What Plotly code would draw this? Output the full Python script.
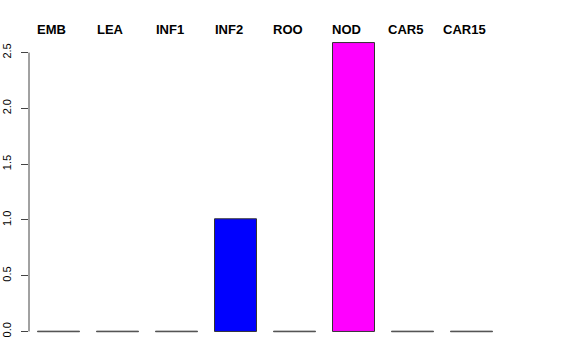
import plotly.graph_objects as go

categories = ["EMB", "LEA", "INF1", "INF2", "ROO", "NOD", "CAR5", "CAR15"]
values = [0, 0, 0, 1.01, 0, 2.59, 0, 0]
bar_colors = ["#FFFFFF", "#FFFFFF", "#FFFFFF", "#0000FF", "#FFFFFF", "#FF00FF", "#FFFFFF", "#FFFFFF"]
tick_vals = [0.0, 0.5, 1.0, 1.5, 2.0, 2.5]
tick_text = ["0.0", "0.5", "1.0", "1.5", "2.0", "2.5"]

xs = list(range(len(categories)))

fig = go.Figure()
fig.add_trace(go.Bar(
    x=xs, y=values,
    marker=dict(color=bar_colors, line=dict(color="#333333", width=1)),
    showlegend=False, hoverinfo="skip",
))
# zero-height bars: drawn as flat lines at the value
zx = [x for x, v in zip(xs, values) if v == 0]
zy = [v for v in values if v == 0]
fig.add_trace(go.Scatter(
    x=zx, y=zy, mode="markers",
    marker=dict(symbol="line-ew", size=30, line=dict(color="#555555", width=1.5)),
    showlegend=False, hoverinfo="skip", cliponaxis=False,
))

for x, c in zip(xs, categories):
    fig.add_annotation(
        x=x, y=1, xref="x", yref="paper", text="<b>%s</b>" % c,
        showarrow=False, xanchor="center", yanchor="middle", yshift=2, xshift=-7,
        font=dict(family="Liberation Sans, Arial, sans-serif", size=13, color="#000000"),
    )

fig.add_shape(type="line", xref="paper", yref="y", x0=0, x1=0,
              y0=tick_vals[0], y1=tick_vals[-1], line=dict(color="#444444", width=1))

fig.update_layout(
    width=576, height=360,
    margin=dict(l=29, r=75, t=31, b=17, autoexpand=False),
    plot_bgcolor="white", paper_bgcolor="white",
    bargap=0.288,
    font=dict(family="Liberation Sans, Arial, sans-serif", size=11, color="#000000"),
    xaxis=dict(range=[-0.5, 7.5], showticklabels=False, showgrid=False, zeroline=False,
               showline=False, ticks="", automargin=False),
    yaxis=dict(range=[-0.1036, 2.6936], tickvals=tick_vals, ticktext=tick_text,
               tickangle=-90, ticks="outside", ticklen=7, tickcolor="#444444",
               showgrid=False, zeroline=False, showline=False, automargin=False,
               tickfont=dict(size=11), ticklabelstandoff=6),
)

fig.write_html("out.html", config={"displayModeBar": False},
               post_script="document.body.style.margin='0';")
